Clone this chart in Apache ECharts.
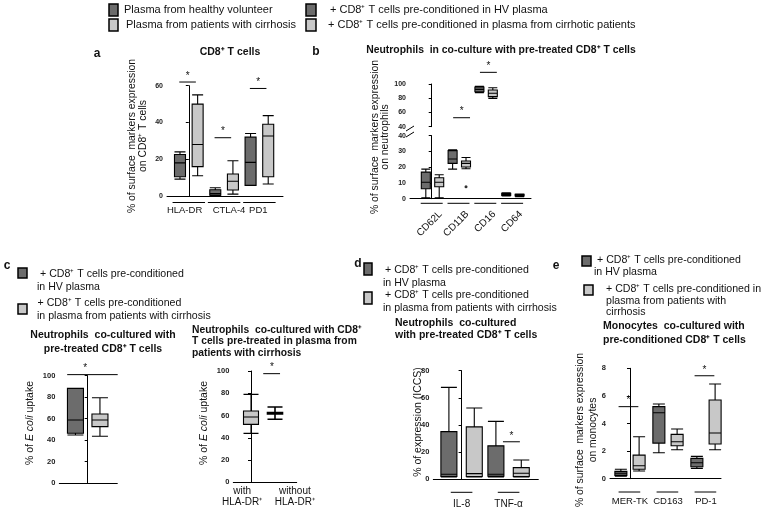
<!DOCTYPE html>
<html><head><meta charset="utf-8">
<script src="https://cdn.jsdelivr.net/npm/echarts@6/dist/echarts.min.js"></script>
<style>html,body{margin:0;padding:0;background:#fff}#c{width:764px;height:513px}</style>
</head><body><div id="c"></div>
<script>
// ================= DATA =================
// box values: [min, Q1, median, Q3, max]
const aCats = ['HLA-DR', 'CTLA-4', 'PD1'];
const aHV  = [[9.2, 10.5, 18, 22.6, 24], [0, 0.4, 1.3, 3.4, 4.5], [5.8, 5.8, 18.3, 32, 34]];
const aCir = [[11, 16, 28, 50, 55], [1, 3.3, 8, 12, 19.2], [6.5, 10.5, 32.6, 39, 43.7]];
const aSig = [62, 31.7, 58.5];
const aTicks = [0, 20, 40, 60];

const bCats = ['CD62L', 'CD11B', 'CD16', 'CD64'];
const bHV  = [[0.5, 6.3, 10.4, 16.9, 18.8], [18.8, 22.4, 25.2, 30.5, 31.1], [87.8, 89.2, 92.5, 95.8, 96.7], [1.7, 2.1, 2.8, 3.4, 3.8]];
const bCir = [[0.5, 7.6, 10.4, 13.3, 15.2], [19, 20.1, 22.4, 23.9, 26.2], [79.8, 82.2, 86.9, 91.6, 94.8], [1.3, 1.7, 2.1, 2.8, 3.0]];
const bCirOutliers = [null, 7.6, null, null];
const bSig = [null, 52.6, 116.4, null];
const bTicksLow = [0, 10, 20, 30, 40];
const bTicksHigh = [40, 60, 80, 100];

const cHV  = [[44.7, 46.3, 58.7, 88.2, 88.2]];
const cCir = [[43.5, 52.5, 58.7, 64.3, 79.5]];
const cSig = [101];
const cTicks = [0, 20, 40, 60, 80, 100];
const crCats = ['with\nHLA-DR\u207A', 'without\nHLA-DR\u207A'];
const crVals = [[44, 52, 58.7, 64, 79], [56.6, 61.3, 62, 62.7, 67.7]];
const crSig = [97.6];

const dCats = ['IL-8', 'TNF-\u03B1'];
const dHV  = [[1.5, 1.8, 3.5, 35, 67.7], [1.5, 2, 3.5, 24.5, 42.6]];
const dCir = [[1.5, 1.8, 4, 38.5, 52.5], [1.5, 1.8, 4.2, 8.4, 14]];
const dSig = [null, 27.5];
const dTicks = [0, 20, 40, 60, 80];

const eCats = ['MER-TK', 'CD163', 'PD-1'];
const eHV  = [[0.19, 0.24, 0.39, 0.53, 0.68], [1.88, 2.58, 4.78, 5.22, 5.41], [0.75, 0.87, 1.16, 1.47, 1.62]];
const eCir = [[0.56, 0.68, 0.94, 1.71, 3.04], [2.1, 2.39, 2.68, 3.21, 3.6], [2.1, 2.51, 3.31, 5.7, 6.86]];
const eSig = [5.22, null, 7.46];
const eTicks = [0, 2, 4, 6, 8];

// ================= STYLE / LAYOUT =================
const FONT = '"Liberation Sans", Arial, Helvetica, sans-serif';
const HV_COLOR = '#6c6c6c', CIR_COLOR = '#c8c8c8', INK = '#111';

const grids = [], xAxes = [], yAxes = [], series = [], graphics = [];

function addGrid(rect, xr, ticks, showX, labelSize) {
  const i = grids.length;
  grids.push({left: rect[0], top: rect[1], width: rect[2], height: rect[3], containLabel: false});
  xAxes.push({gridIndex: i, type: 'value', min: xr[0], max: xr[1],
    axisLine: {show: showX, onZero: false, lineStyle: {color: '#000', width: 1}},
    axisTick: {show: false}, axisLabel: {show: false}, splitLine: {show: false}});
  yAxes.push({gridIndex: i, type: 'value', min: ticks[0], max: ticks[ticks.length - 1], interval: ticks[1] - ticks[0],
    axisLine: {show: true, lineStyle: {color: '#000', width: 1}},
    axisTick: {show: true, length: 3, lineStyle: {color: '#000', width: 1}},
    axisLabel: {fontSize: labelSize || 7, fontWeight: 'bold', color: '#222', margin: 4, fontFamily: FONT},
    splitLine: {show: false}});
  return i;
}
function boxItem(x, v, color, bw) {
  return {value: [x].concat(v), itemStyle: {color: color, borderColor: '#000', borderWidth: bw || 1.1}};
}
function addBoxes(gi, items, boxW) {
  series.push({type: 'boxplot', xAxisIndex: gi, yAxisIndex: gi, boxWidth: [boxW, boxW], data: items,
    emphasis: {disabled: true}, silent: true, z: 3, animation: false});
}
function addAnno(gi, items) {
  series.push({type: 'custom', xAxisIndex: gi, yAxisIndex: gi, clip: false, silent: true, z: 5, animation: false,
    data: items.map(() => [0, 0]),
    renderItem: function (params, api) {
      const a = items[params.dataIndex];
      if (a.t === 'line') {
        const p1 = api.coord([a.x1, a.y]), p2 = api.coord([a.x2, a.y]);
        const dy = a.dy || 0;
        return {type: 'line', shape: {x1: p1[0], y1: p1[1] + dy, x2: p2[0], y2: p2[1] + dy},
          style: {stroke: '#000', lineWidth: 1}};
      }
      const p = api.coord([a.x, a.y]);
      return {type: 'text', x: p[0] + (a.dx || 0), y: p[1] + (a.dy || 0), rotation: a.rot || 0,
        style: {text: a.text, fill: INK, fontSize: a.fs || 10, fontFamily: FONT, fontWeight: a.fw || 'normal',
          align: a.align || 'center', textAlign: a.align || 'center',
          verticalAlign: a.va || 'middle', textVerticalAlign: a.va || 'middle', lineHeight: a.lh || 12}};
    }});
}
function catAnno(cats, yBase, ulDy, ulHalf, labDy, labPos, fs) {
  const out = [];
  cats.forEach((c, i) => {
    if (ulHalf != null) out.push({t: 'line', x1: i - ulHalf, x2: i + ulHalf, y: yBase, dy: ulDy});
    const lx = labPos ? labPos[i] : i;
    out.push({t: 'text', x: lx, y: yBase, dy: labDy, text: c, va: 'top', lh: 11, fs: fs || 10});
  });
  return out;
}
function sigAnno(sig, span) {
  const out = [];
  sig.forEach((s, i) => {
    if (s == null) return;
    out.push({t: 'line', x1: i + span[0], x2: i + span[1], y: s});
    out.push({t: 'text', x: i + (span[0] + span[1]) / 2, y: s, dy: 0, text: '*', va: 'bottom', fs: 10});
  });
  return out;
}
function gText(x, y, text, o) {
  o = o || {};
  graphics.push({type: 'text', x: x, y: y, rotation: o.rot || 0, scaleX: o.sx || 1, silent: true, z: 10,
    style: {text: text, fill: INK, fontSize: o.fs || 10.6, fontFamily: FONT, fontWeight: o.fw || 'normal',
      align: o.align || 'left', textAlign: o.align || 'left',
      verticalAlign: o.va || 'middle', textVerticalAlign: o.va || 'middle',
      lineHeight: o.lh || 12, rich: o.rich}});
}
function gRect(x, y, w, h, fill) {
  graphics.push({type: 'rect', silent: true, z: 10, shape: {x: x, y: y, width: w, height: h},
    style: {fill: fill, stroke: '#000', lineWidth: 1.5}});
}
function gLine(x1, y1, x2, y2) {
  graphics.push({type: 'line', silent: true, z: 10, shape: {x1: x1, y1: y1, x2: x2, y2: y2},
    style: {stroke: '#000', lineWidth: 1}});
}

// ---------- panel a ----------
(function () {
  const off = [-0.25, 0.25];
  const g = addGrid([167, 85.7, 116, 110.3], [-0.618, 2.669], aTicks, true, 7);
  const items = [];
  aCats.forEach((c, i) => { items.push(boxItem(i + off[0], aHV[i], HV_COLOR)); items.push(boxItem(i + off[1], aCir[i], CIR_COLOR)); });
  addBoxes(g, items, 11);
  addAnno(g, catAnno(aCats, aTicks[0], 6.5, 0.46, 9, [-0.12, 1.14, 1.97], 9.5).concat(sigAnno(aSig, [-0.27, 0.2])));
})();

// ---------- panel b (broken axis: two grids) ----------
(function () {
  const off = [-0.22, 0.28];
  const xr = [-0.81, 3.705];
  const gH = addGrid([410, 84, 121, 42.7], xr, bTicksHigh, false, 7);
  const gL = addGrid([410, 135.7, 121, 63], xr, bTicksLow, true, 7);
  const hi = [], lo = [];
  bCats.forEach((c, i) => {
    const target = (bHV[i][0] > bTicksHigh[0]) ? hi : lo;
    target.push(boxItem(i + off[0], bHV[i], HV_COLOR));
    target.push(boxItem(i + off[1], bCir[i], CIR_COLOR));
  });
  addBoxes(gH, hi, 9);
  addBoxes(gL, lo, 9);
  series.push({type: 'scatter', xAxisIndex: gL, yAxisIndex: gL, symbolSize: 3, silent: true, z: 4,
    itemStyle: {color: '#000'},
    data: bCirOutliers.map((v, i) => v == null ? null : [i + off[1], v]).filter(Boolean)});
  const ann = [];
  bCats.forEach((c, i) => {
    ann.push({t: 'line', x1: i - 0.41, x2: i + 0.41, y: bTicksLow[0], dy: 4.6});
    ann.push({t: 'text', x: i + 0.33, y: bTicksLow[0], dy: 14, text: c, align: 'right', va: 'middle', rot: Math.PI / 4});
  });
  addAnno(gL, ann);
  addAnno(gH, sigAnno(bSig, [-0.2, 0.43]));
  gLine(406, 131, 414, 126);
  gLine(406, 137, 414, 132);
})();

// ---------- panel c left ----------
(function () {
  const g = addGrid([59.3, 375.7, 58, 107.3], [-0.568, 0.592], cTicks, true, 7.5);
  addBoxes(g, [boxItem(-0.245, cHV[0], HV_COLOR), boxItem(0.245, cCir[0], CIR_COLOR)], 16);
  addAnno(g, [{t: 'line', x1: -0.41, x2: 0.6, y: cSig[0]},
              {t: 'text', x: -0.05, y: cSig[0], text: '*', va: 'bottom', fs: 10}]);
})();

// ---------- panel c right ----------
(function () {
  const g = addGrid([233.3, 371, 63.4, 111.3], [-0.7375, 1.904], cTicks, true, 7.5);
  addBoxes(g, [boxItem(0, crVals[0], CIR_COLOR), boxItem(1, crVals[1], 'rgba(0,0,0,0)', 1.6)], 15);
  addAnno(g, catAnno(crCats, cTicks[0], 0, null, 3, [-0.37, 1.83]).concat(
    [{t: 'line', x1: 0.51, x2: 1.21, y: crSig[0]},
     {t: 'text', x: 0.875, y: crSig[0], text: '*', va: 'bottom', fs: 10}]));
})();

// ---------- panel d ----------
(function () {
  const off = [-0.27, 0.27];
  const g = addGrid([433.3, 370.7, 105, 108.3], [-0.602, 1.632], dTicks, true, 7.5);
  const items = [];
  dCats.forEach((c, i) => { items.push(boxItem(i + off[0], dHV[i], HV_COLOR)); items.push(boxItem(i + off[1], dCir[i], CIR_COLOR)); });
  addBoxes(g, items, 16);
  addAnno(g, catAnno(dCats, dTicks[0], 13.3, 0.23, 20).concat(sigAnno(dSig, [-0.12, 0.24])));
})();

// ---------- panel e ----------
(function () {
  const off = [-0.24, 0.24];
  const g = addGrid([610, 368.3, 111, 110.4], [-0.526, 2.395], eTicks, true, 7.5);
  const items = [];
  eCats.forEach((c, i) => { items.push(boxItem(i + off[0], eHV[i], HV_COLOR)); items.push(boxItem(i + off[1], eCir[i], CIR_COLOR)); });
  addBoxes(g, items, 12);
  const ann = [];
  eCats.forEach((c, i) => {
    ann.push({t: 'line', x1: i - 0.3, x2: i + 0.27, y: eTicks[0], dy: 13.3});
    ann.push({t: 'text', x: i, y: eTicks[0], dy: 17, text: c, va: 'top', fs: 9.5});
  });
  addAnno(g, ann.concat(sigAnno(eSig, [-0.3, 0.22])));
})();

// ================= TEXTS =================
// top legend
gRect(109, 4, 9, 12, HV_COLOR);
gText(124, 10, 'Plasma from healthy volunteer', {fs: 11});
gRect(109, 19, 9, 12, CIR_COLOR);
gText(126, 25, 'Plasma from patients with cirrhosis', {fs: 11});
gRect(306, 4, 10, 12, HV_COLOR);
gText(330, 10, '+ CD8\u207A T cells pre-conditioned in HV plasma', {fs: 11});
gRect(306, 19, 10, 12, CIR_COLOR);
gText(328, 25, '+ CD8\u207A T cells pre-conditioned in plasma from cirrhotic patients', {fs: 11});

// panel letters
gText(97, 54, 'a', {fw: 'bold', fs: 12, align: 'center'});
gText(316, 52, 'b', {fw: 'bold', fs: 12, align: 'center'});
gText(7, 266, 'c', {fw: 'bold', fs: 12, align: 'center'});
gText(358, 264, 'd', {fw: 'bold', fs: 12, align: 'center'});
gText(556, 266, 'e', {fw: 'bold', fs: 12, align: 'center'});

// titles
gText(230, 52, 'CD8\u207A T cells', {fw: 'bold', align: 'center', fs: 10.5});
gText(501, 50, 'Neutrophils  in co-culture with pre-treated CD8\u207A T cells', {fw: 'bold', align: 'center', fs: 10.4});
gText(103, 342, 'Neutrophils  co-cultured with\npre-treated CD8\u207A T cells', {fw: 'bold', align: 'center', lh: 14, fs: 10.5});
gText(192, 341.5, 'Neutrophils  co-cultured with CD8\u207A\nT cells pre-treated in plasma from\npatients with cirrhosis', {fw: 'bold', lh: 11.7, fs: 10.3});
gText(395, 329, 'Neutrophils  co-cultured\nwith pre-treated CD8\u207A T cells', {fw: 'bold', lh: 12, fs: 10.5});
gText(603, 333, 'Monocytes  co-cultured with\npre-conditioned CD8\u207A T cells', {fw: 'bold', lh: 14, fs: 10.5});

// y-axis titles (rotated)
const R = Math.PI / 2;
const ital = {i: {fontStyle: 'italic', fontSize: 10.5, fontFamily: FONT, fill: INK}};
gText(137.5, 136, '% of surface  markers expression\non CD8\u207A T cells', {rot: R, align: 'center', lh: 11.6, fs: 10.4});
gText(380, 137, '% of surface  markers expression\non neutrophils', {rot: R, align: 'center', lh: 10.5, fs: 10.4});
gText(30, 423, '% of {i|E coli} uptake', {rot: R, align: 'center', fs: 10.5, rich: ital});
gText(204, 423, '% of {i|E coli} uptake', {rot: R, align: 'center', fs: 10.5, rich: ital});
gText(418.3, 422, '% of expression (ICCS)', {rot: R, align: 'center', fs: 10.5});
gText(587, 430, '% of surface  markers expression\non monocytes', {rot: R, align: 'center', lh: 13, fs: 10.4});

// legend c
gRect(18, 268, 9, 10, HV_COLOR);
gText(40, 274, '+ CD8\u207A T cells pre-conditioned');
gText(37, 287, 'in HV plasma');
gRect(18, 304, 9, 10, CIR_COLOR);
gText(37.5, 303, '+ CD8\u207A T cells pre-conditioned');
gText(37, 316, 'in plasma from patients with cirrhosis');
// legend d
gRect(364, 263, 8, 12, HV_COLOR);
gText(385, 270, '+ CD8\u207A T cells pre-conditioned');
gText(383, 283, 'in HV plasma');
gRect(364, 292, 8, 12, CIR_COLOR);
gText(385, 295, '+ CD8\u207A T cells pre-conditioned');
gText(383, 308, 'in plasma from patients with cirrhosis');
// legend e
gRect(582, 256, 9, 10, HV_COLOR);
gText(597, 260, '+ CD8\u207A T cells pre-conditioned');
gText(594, 272, 'in HV plasma');
gRect(584, 285, 9, 10, CIR_COLOR);
gText(606, 289, '+ CD8\u207A T cells pre-conditioned in');
gText(606, 301, 'plasma from patients with');
gText(606, 312, 'cirrhosis');

const chart = echarts.init(document.getElementById('c'), null, {renderer: 'canvas'});
chart.setOption({
  animation: false,
  backgroundColor: '#fff',
  grid: grids, xAxis: xAxes, yAxis: yAxes, series: series, graphic: graphics
});
</script></body></html>
